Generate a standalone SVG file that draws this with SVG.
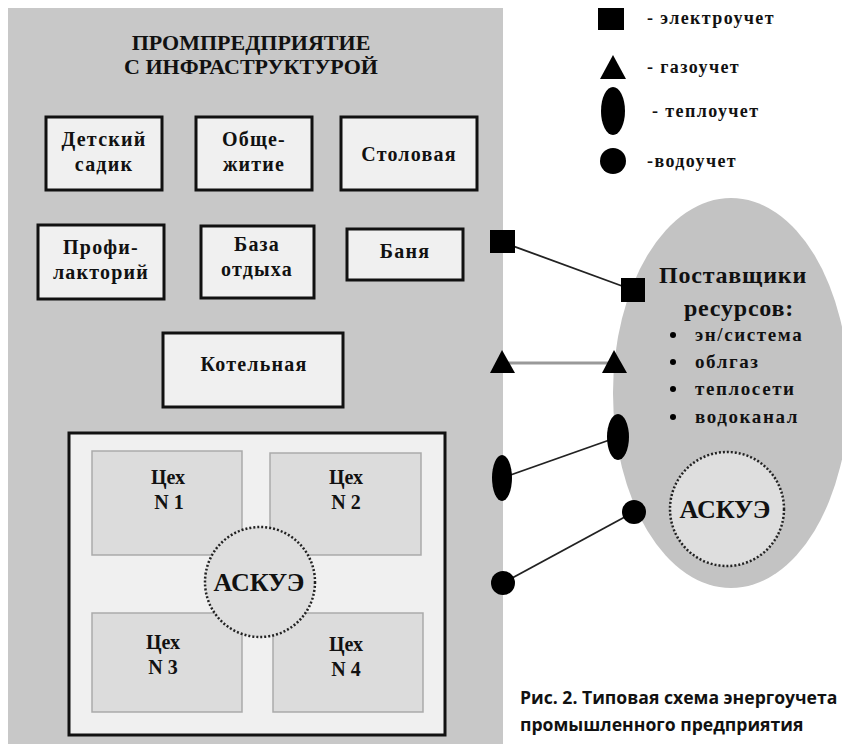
<svg xmlns="http://www.w3.org/2000/svg" width="842" height="744" viewBox="0 0 842 744">
<style>
.t{font-family:"Liberation Serif","DejaVu Serif",serif;font-weight:bold;fill:#111;text-anchor:middle}
.b{font-size:20px;letter-spacing:1.2px}
.box{fill:#f0f0f0;stroke:#111;stroke-width:3}
.ceh{fill:#dcdcdc;stroke:#aaa;stroke-width:1.5}
.ask{fill:#dedede;stroke:#222;stroke-width:2.5;stroke-dasharray:2 2}
.m{fill:#000}
.lg{font-family:"Liberation Serif","DejaVu Serif",serif;font-weight:bold;fill:#111;font-size:18px;letter-spacing:1.4px}
.cap{font-family:"Open Sans","Noto Sans",sans-serif;font-weight:bold;fill:#111;font-size:17.6px}
</style>
<rect width="842" height="744" fill="#fff"/>
<g id="enterprise">
<rect x="8" y="8" width="495" height="736" fill="#c8c8c8"/>
<text class="t" font-size="22"><tspan x="251" y="50">ПРОМПРЕДПРИЯТИЕ</tspan><tspan x="251" y="74">С ИНФРАСТРУКТУРОЙ</tspan></text>
</g>
<g id="detsad"><rect class="box" x="46" y="117" width="116" height="73"/><text class="t b"><tspan x="104" y="146">Детский</tspan><tspan x="104" y="171">садик</tspan></text></g>
<g id="obsh"><rect class="box" x="196" y="117" width="116" height="73"/><text class="t b"><tspan x="254" y="146">Обще-</tspan><tspan x="254" y="171">житие</tspan></text></g>
<g id="stol"><rect class="box" x="341" y="117" width="136" height="73"/><text class="t b" x="409" y="161">Столовая</text></g>
<g id="prof"><rect class="box" x="38" y="225" width="126" height="74"/><text class="t b"><tspan x="101" y="254">Профи-</tspan><tspan x="101" y="279">лакторий</tspan></text></g>
<g id="baza"><rect class="box" x="201" y="226" width="113" height="72"/><text class="t b"><tspan x="257" y="251">База</tspan><tspan x="257" y="276">отдыха</tspan></text></g>
<g id="banya"><rect class="box" x="347" y="229" width="116" height="51"/><text class="t b" x="405" y="258">Баня</text></g>
<g id="kotel"><rect class="box" x="163" y="333" width="180" height="74"/><text class="t b" x="254" y="371">Котельная</text></g>
<g id="zavod">
<rect class="box" x="69" y="433" width="376" height="302" fill="#efefef"/>
</g>
<g id="ceh1"><rect class="ceh" x="92" y="451" width="150" height="104"/><text class="t" font-size="20"><tspan x="168" y="484">Цех</tspan><tspan x="169" y="509">N 1</tspan></text></g>
<g id="ceh2"><rect class="ceh" x="270" y="453" width="151" height="102"/><text class="t" font-size="20"><tspan x="346" y="484">Цех</tspan><tspan x="346" y="509">N 2</tspan></text></g>
<g id="ceh3"><rect class="ceh" x="92" y="613" width="150" height="99"/><text class="t" font-size="20"><tspan x="163" y="649">Цех</tspan><tspan x="163" y="674">N 3</tspan></text></g>
<g id="ceh4"><rect class="ceh" x="273" y="613" width="150" height="99"/><text class="t" font-size="20"><tspan x="346" y="651">Цех</tspan><tspan x="346" y="676">N 4</tspan></text></g>
<g id="askue1"><circle class="ask" cx="260" cy="582" r="55"/><text class="t" font-size="26" x="259" y="591">АСКУЭ</text></g>
<g id="suppliers">
<ellipse cx="731" cy="393" rx="118" ry="195" fill="#c3c3c3"/>
<text class="t" font-size="24" letter-spacing="0.8"><tspan x="733" y="283">Поставщики</tspan><tspan x="739" y="316">ресурсов:</tspan></text>
<g class="lg" style="font-size:19px;letter-spacing:1.6px">
<circle cx="673" cy="335" r="3" class="m"/><text x="695" y="341">эн/система</text>
<circle cx="673" cy="362" r="3" class="m"/><text x="695" y="368">облгаз</text>
<circle cx="673" cy="389" r="3" class="m"/><text x="695" y="395">теплосети</text>
<circle cx="673" cy="417" r="3" class="m"/><text x="695" y="423">водоканал</text>
</g>
</g>
<g id="askue2"><circle class="ask" cx="727" cy="509" r="57"/><text class="t" font-size="26" x="725" y="518">АСКУЭ</text></g>
<g id="connectors">
<line x1="502" y1="242" x2="633" y2="290" stroke="#222" stroke-width="1.8"/>
<line x1="502" y1="363" x2="614" y2="363" stroke="#999" stroke-width="3"/>
<line x1="502" y1="478" x2="618" y2="437" stroke="#222" stroke-width="1.8"/>
<line x1="503" y1="583" x2="634" y2="512" stroke="#222" stroke-width="1.8"/>
<rect class="m" x="490" y="230" width="25" height="23"/>
<rect class="m" x="621" y="278" width="24" height="24"/>
<path class="m" d="M502 350 L515 373 L490 373 Z"/>
<path class="m" d="M614 350 L627 373 L602 373 Z"/>
<ellipse class="m" cx="502" cy="478" rx="10" ry="23"/>
<ellipse class="m" cx="618" cy="437" rx="11" ry="23"/>
<circle class="m" cx="503" cy="583" r="12"/>
<circle class="m" cx="634" cy="512" r="12"/>
</g>
<g id="legend">
<rect class="m" x="598" y="8" width="26" height="22"/><text class="lg" x="647" y="24">- электроучет</text>
<path class="m" d="M613 55 L626 79 L600 79 Z"/><text class="lg" x="647" y="73">- газоучет</text>
<ellipse class="m" cx="613" cy="111" rx="12" ry="24"/><text class="lg" x="652" y="117">- теплоучет</text>
<circle class="m" cx="613" cy="161" r="13"/><text class="lg" x="647" y="167">-водоучет</text>
</g>
<g id="caption">
<text class="cap" x="520" y="704">Рис. 2. Типовая схема энергоучета</text>
<text class="cap" x="520" y="731">промышленного предприятия</text>
</g>
</svg>
